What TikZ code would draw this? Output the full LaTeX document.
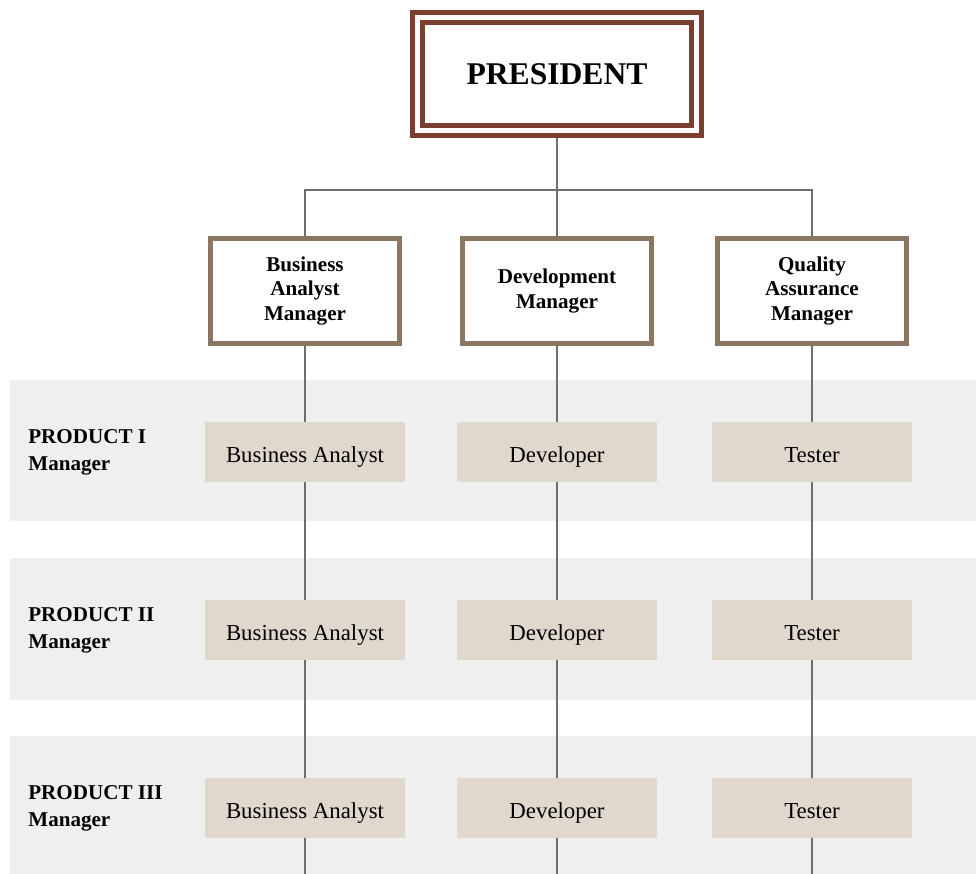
\documentclass[tikz,border=0pt]{standalone}
\usepackage{fontspec}
\setmainfont{Liberation Serif}
\definecolor{presred}{HTML}{7B3F2F}
\definecolor{mgrbrown}{HTML}{8B7761}
\definecolor{rolefill}{HTML}{E0D7CD}
\definecolor{bandgray}{HTML}{EFEFEF}
\definecolor{linegray}{HTML}{6E6E6E}
\begin{document}
\begin{tikzpicture}[x=0.02cm, y=-0.02cm,
  pres/.style={draw=presred, line width=2.8pt, double=white, double distance=2.8pt,
    outer sep=4.2pt, minimum width=5.58cm, minimum height=2.26cm,
    font=\fontsize{18}{22}\selectfont\bfseries},
  mgr/.style={draw=mgrbrown, fill=white, line width=2.8pt, minimum width=3.78cm,
    minimum height=2.1cm, align=center, font=\fontsize{12}{13.8}\selectfont\bfseries},
  role/.style={fill=rolefill, minimum width=4.02cm, minimum height=1.2cm,
    text height=11.5pt, text depth=0pt, font=\fontsize{13}{15}\selectfont},
  prod/.style={anchor=west, align=left, inner sep=0pt,
    font=\fontsize{12}{15.3}\selectfont\bfseries},
  link/.style={draw=linegray, line width=0.85pt}]
\useasboundingbox (0,0) rectangle (976,874);
% product bands
\fill[bandgray] (10,380) rectangle (976,521);
\fill[bandgray] (10,558) rectangle (976,700);
\fill[bandgray] (10,736) rectangle (976,874);
% top
\node[pres] (pres) at (557,74) {PRESIDENT};
\node[mgr] (mgr1) at (305,291) {Business\\Analyst\\Manager};
\node[mgr] (mgr2) at (557,291) {Development\\Manager};
\node[mgr] (mgr3) at (812,291) {Quality\\Assurance\\Manager};
% rows
\node[prod] (prod1) at (28,452) {PRODUCT I\\Manager};
\node[role] (ba1) at (305,452) {Business Analyst};
\node[role] (dev1) at (557,452) {Developer};
\node[role] (qa1) at (812,452) {Tester};
\node[prod] (prod2) at (28,630) {PRODUCT II\\Manager};
\node[role] (ba2) at (305,630) {Business Analyst};
\node[role] (dev2) at (557,630) {Developer};
\node[role] (qa2) at (812,630) {Tester};
\node[prod] (prod3) at (28,808) {PRODUCT III\\Manager};
\node[role] (ba3) at (305,808) {Business Analyst};
\node[role] (dev3) at (557,808) {Developer};
\node[role] (qa3) at (812,808) {Tester};
\coordinate (bus) at (557,190);
\coordinate (end1) at (305,874);
\coordinate (end2) at (557,874);
\coordinate (end3) at (812,874);
% links
\draw[link] (pres) -- (bus);
\draw[link] (bus) -| (mgr1);
\draw[link] (bus) -| (mgr3);
\draw[link] (bus) -- (mgr2);
\draw[link] (mgr1) -- (ba1);
\draw[link] (ba1) -- (ba2);
\draw[link] (ba2) -- (ba3);
\draw[link] (ba3) -- (end1);
\draw[link] (mgr2) -- (dev1);
\draw[link] (dev1) -- (dev2);
\draw[link] (dev2) -- (dev3);
\draw[link] (dev3) -- (end2);
\draw[link] (mgr3) -- (qa1);
\draw[link] (qa1) -- (qa2);
\draw[link] (qa2) -- (qa3);
\draw[link] (qa3) -- (end3);
\end{tikzpicture}
\end{document}
